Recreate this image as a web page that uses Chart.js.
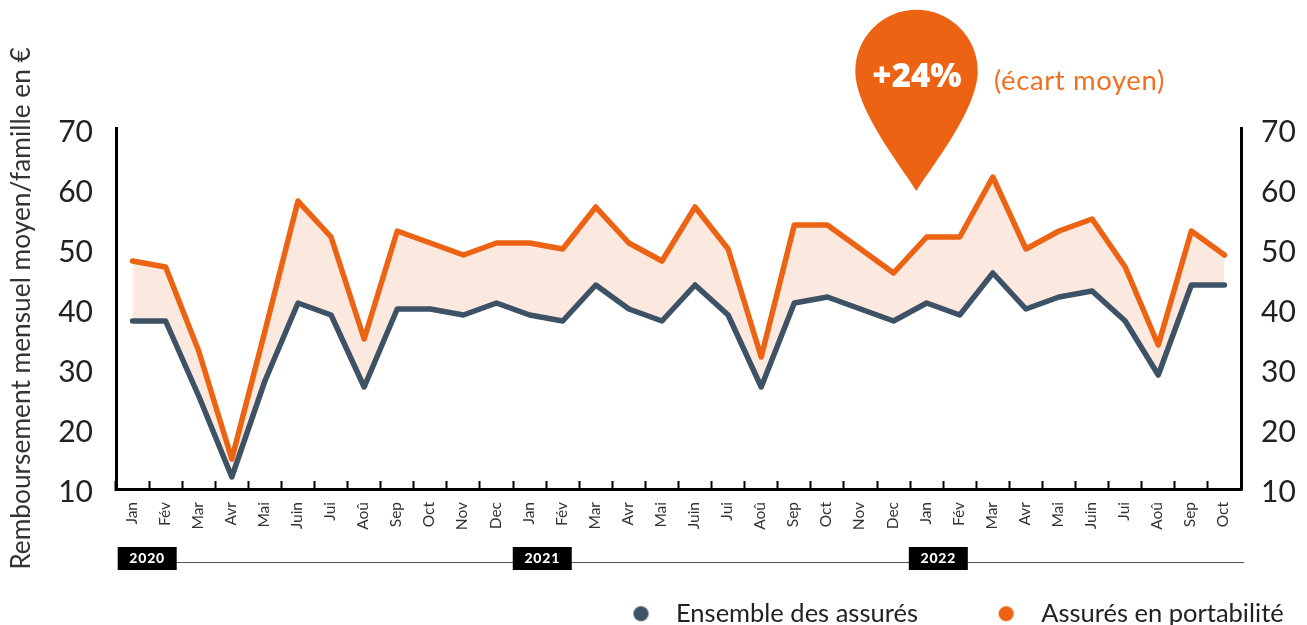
<!DOCTYPE html>
<html lang="fr"><head><meta charset="utf-8">
<style>html,body{margin:0;padding:0;background:#fff}#w{position:relative;width:1307px;height:625px}canvas{display:block}</style>
<script src="https://cdn.jsdelivr.net/npm/chart.js@4"></script>
</head><body><div id="w"><canvas id="c" width="1307" height="625"></canvas></div>
<script>
const categories = ['Jan','Fév','Mar','Avr','Mai','Juin','Jui','Aoû','Sep','Oct','Nov','Dec','Jan','Fév','Mar','Avr','Mai','Juin','Jui','Aoû','Sep','Oct','Nov','Dec','Jan','Fév','Mar','Avr','Mai','Juin','Jui','Aoû','Sep','Oct'];
const ensembleAssures = [38.5,38.5,26,12.5,28.5,41.5,39.5,27.5,40.5,40.5,39.5,41.5,39.5,38.5,44.5,40.5,38.5,44.5,39.5,27.5,41.5,42.5,40.5,38.5,41.5,39.5,46.5,40.5,42.5,43.5,38.5,29.5,44.5,44.5];
const assuresPortabilite = [48.5,47.5,33.5,15.5,36.8,58.5,52.5,35.5,53.5,51.5,49.5,51.5,51.5,50.5,57.5,51.5,48.5,57.5,50.5,32.5,54.5,54.5,50.5,46.5,52.5,52.5,62.5,50.5,53.5,55.5,47.5,34.5,53.5,49.5];
const yTicks = [10,20,30,40,50,60,70];
const years = ['2020','2021','2022'];
const yearStartIndex = [0,12,24];
const BLUE='#3d5265', ORANGE='#ec6313', FILL='#fbe8de', FONT='Lato', INK='#222';

function dot(color){const c=document.createElement('canvas');c.width=c.height=17;const x=c.getContext('2d');x.fillStyle=color;x.beginPath();x.arc(8.5,8.5,7.6,0,Math.PI*2);x.fill();return c;}

const extras = {
  id:'extras',
  beforeLayout(chart){ chart.legend.isHorizontal=()=>true; },
  afterLayout(chart){
    const l=chart.legend;
    l.left=618.75-66; l.right=1600; l.top=601-66; l.bottom=700;
  },
  afterDraw(chart){
    const g=chart.ctx, xs=chart.scales.x;
    const band=xs.getPixelForValue(1)-xs.getPixelForValue(0);
    g.save();
    g.strokeStyle='#555';g.lineWidth=1.2;g.beginPath();g.moveTo(xs.left+2,562.5);g.lineTo(1244,562.5);g.stroke();
    years.forEach((y,i)=>{
      const x0=xs.getPixelForValue(yearStartIndex[i])-band/2+1.7-[0,2,3][i];
      g.fillStyle='#000';g.fillRect(x0,547,59,23);
      g.fillStyle='#fff';g.font='900 14px '+FONT;g.letterSpacing='0.8px';g.textAlign='center';g.textBaseline='middle';
      g.fillText(y,x0+29.5,558.5);
    });
    g.letterSpacing='0px';
    const cx=916.5,cy=71,r=61.2,tip=191;
    g.fillStyle=ORANGE;g.beginPath();
    g.moveTo(cx,tip);
    g.bezierCurveTo(cx-14,168,cx-r,110,cx-r,cy);
    g.arc(cx,cy,r,Math.PI,0);
    g.bezierCurveTo(cx+r,110,cx+14,168,cx,tip);
    g.closePath();g.fill();
    g.fillStyle='#fff';g.font='800 33px "Open Sans"';g.textAlign='center';g.textBaseline='middle';
    g.fillText('+24%',917,78);
    g.fillStyle='#f0701f';g.font='27.5px '+FONT;g.letterSpacing='0.6px';g.textAlign='left';
    g.fillText('(écart moyen)',994,81);
    g.restore();
  }
};

new Chart(document.getElementById('c'),{
  type:'line',
  plugins:[extras],
  data:{labels:categories,datasets:[
    {label:'Ensemble des assurés',data:ensembleAssures,order:2,borderColor:BLUE,backgroundColor:BLUE,borderWidth:5.5,pointRadius:0,tension:0,borderJoinStyle:'round',borderCapStyle:'round',
     fill:{target:1,above:FILL,below:FILL}},
    {label:'Assurés en portabilité',data:assuresPortabilite,order:1,borderColor:ORANGE,backgroundColor:ORANGE,borderWidth:5.5,pointRadius:0,tension:0,borderJoinStyle:'round',borderCapStyle:'round',fill:false}
  ]},
  options:{
    responsive:false,animation:false,
    layout:{padding:{left:0,right:0,top:128,bottom:0}},
    plugins:{tooltip:{enabled:false},
      legend:{position:'chartArea',align:'start',
        labels:{usePointStyle:true,pointStyleWidth:44.5,boxHeight:17,padding:66,color:INK,font:{family:FONT,size:25.5},
          generateLabels(ch){return ch.data.datasets.map((d,i)=>({text:d.label,datasetIndex:i,fontColor:INK,lineWidth:0,pointStyle:dot(d.borderColor),hidden:false}));}}}
    },
    scales:{
      x:{type:'category',offset:true,afterFit(s){s.height=136;},
        grid:{offset:true,drawOnChartArea:false,drawTicks:true,tickLength:-8,tickWidth:2,tickColor:'#000',color:'#000'},
        border:{color:'#000',width:3},
        ticks:{autoSkip:false,minRotation:90,maxRotation:90,padding:21,labelOffset:-1,color:'#333',font:{family:FONT,size:15.5}}},
      y:{position:'left',min:10.5,max:70.67,afterBuildTicks(s){s.ticks=yTicks.map(v=>({value:v}));},afterFit(s){s.width=116;},
        grid:{drawOnChartArea:false,drawTicks:false},border:{color:'#000',width:3},
        ticks:{autoSkip:false,padding:23,color:INK,font:{family:FONT,size:30}},
        title:{display:true,text:'Remboursement mensuel moyen/famille en €',color:'#333',padding:{top:6,bottom:0},font:{family:FONT,size:26.3}}},
      y2:{position:'right',min:10.5,max:70.67,afterBuildTicks(s){s.ticks=yTicks.map(v=>({value:v}));},afterFit(s){s.width=66;},
        grid:{drawOnChartArea:false,drawTicks:false},border:{color:'#000',width:3},
        ticks:{autoSkip:false,padding:20,color:INK,font:{family:FONT,size:30}}}
    }
  }
});
</script></body></html>
